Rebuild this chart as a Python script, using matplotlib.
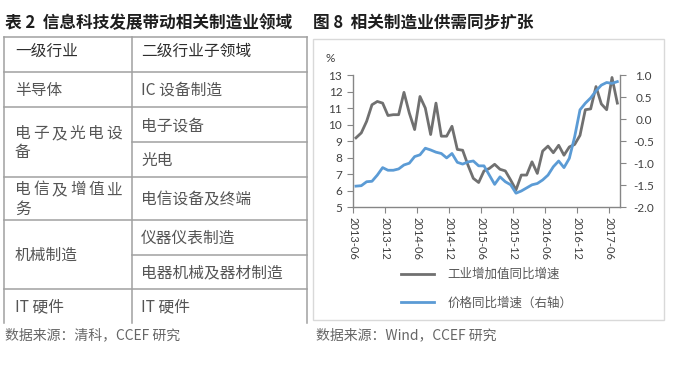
import numpy as np
import pandas as pd
import matplotlib
matplotlib.use('Agg')
import matplotlib.pyplot as plt

plt.rcParams['font.family'] = ['Noto Sans CJK SC', 'DejaVu Sans']

## table content ##
table_title = '表 2  信息科技发展带动相关制造业领域'
head = ['一级行业', '二级行业子领域']
level1 = [['半导体'], ['电子及光电设', '备'], ['电信及增值业', '务'], ['机械制造'], ['IT 硬件']]
level2 = [['IC 设备制造'], ['电子设备', '光电'], ['电信设备及终端'],
          ['仪器仪表制造', '电器机械及器材制造'], ['IT 硬件']]
src_left = '数据来源：清科，CCEF 研究'

## chart content: monthly 2013-06 .. 2017-07 ##
chart_title = '图 8  相关制造业供需同步扩张'
months = pd.period_range('2013-06', '2017-07', freq='M')
ind_growth = [9.2, 9.5, 10.2, 11.2, 11.4, 11.3, 10.55, 10.6, 10.6, 11.95,
              10.7, 9.7, 11.7, 11.0, 9.4, 11.3, 9.3, 9.3, 9.9, 8.5,
              8.45, 7.55, 6.75, 6.5, 7.2, 7.35, 7.6, 7.3, 7.2, 6.65,
              6.05, 6.95, 6.95, 7.75, 7.05, 8.4, 8.7, 8.3, 8.75, 8.15,
              8.65, 8.8, 9.35, 10.9, 10.95, 12.3, 11.25, 10.9, 12.85, 11.3]
price_growth = [-1.52, -1.51, -1.42, -1.41, -1.27, -1.10, -1.16, -1.16, -1.13, -1.04,
                -1.0, -0.85, -0.81, -0.66, -0.70, -0.75, -0.78, -0.88, -0.78, -0.98,
                -1.02, -0.97, -0.95, -1.06, -1.06, -1.27, -1.48, -1.31, -1.42, -1.49,
                -1.68, -1.63, -1.56, -1.49, -1.46, -1.38, -1.27, -1.08, -0.95, -1.10,
                -0.89, -0.40, 0.21, 0.36, 0.48, 0.64, 0.77, 0.83, 0.81, 0.85]
labels = ['工业增加值同比增速', '价格同比增速（右轴）']
src_right = '数据来源：Wind，CCEF 研究'

W, H = 680, 367
fig = plt.figure(figsize=(W / 100, H / 100), dpi=100)
fig.patch.set_facecolor('white')

# overlay in pixel coords for the table and frames
ax0 = fig.add_axes([0, 0, 1, 1])
ax0.set_xlim(0, W)
ax0.set_ylim(H, 0)
ax0.axis('off')

lc = '#a0a0a0'
hc = '#2e2e2e'
bc = '#555555'
fs = 11.3

# table grid
x_l, x_m, x_r = 4, 132.3, 306.7
row_edges = [37.3, 71.7, 107.3, 176.7, 220, 289.3, 322.7]
for y in row_edges[:-1]:
    ax0.plot([x_l, x_r], [y, y], color=lc, lw=1.1)
for x in [x_l, x_m, x_r]:
    ax0.plot([x, x], [row_edges[0], row_edges[-1]], color=lc, lw=1.1)

ax0.text(5, 23, table_title, fontsize=12, fontweight='bold', color='#1e1e1e',
         va='center', ha='left')
ax0.text(15, 51, head[0], fontsize=fs, color=hc, va='center')
ax0.text(141, 51, head[1], fontsize=fs, color=hc, va='center')

for r, (l1, l2) in enumerate(zip(level1, level2)):
    top, bot = row_edges[r + 1], row_edges[r + 2]
    mid = (top + bot) / 2
    # left column
    if len(l1) == 1:
        ax0.text(15, mid + 1, l1[0], fontsize=fs, color=bc, va='center')
    else:
        gap = 19
        y1 = mid - gap / 2 + 1
        chars = list(l1[0])
        for k, ch in enumerate(chars):
            ax0.text(15 + k * 18.3, y1, ch, fontsize=fs, color=bc, va='center')
        ax0.text(15, y1 + gap, l1[1], fontsize=fs, color=bc, va='center')
    # right column
    n = len(l2)
    h = (bot - top) / n
    for k, t in enumerate(l2):
        if k > 0:
            ax0.plot([x_m, x_r], [top + k * h, top + k * h], color=lc, lw=1.1)
        ax0.text(141, top + h * (k + 0.5) + 1, t, fontsize=fs, color=bc, va='center')

ax0.text(5, 335, src_left, fontsize=10, color='#666666', va='center')

# chart frame + title
ax0.text(313, 23, chart_title, fontsize=12, fontweight='bold', color='#1e1e1e',
         va='center', ha='left')
ax0.add_patch(plt.Rectangle((313.3, 39.3), 664 - 313.3, 320 - 39.3, fill=False,
                            edgecolor='#d9d9d9', lw=1))
ax0.text(325, 58, '%', fontsize=8.5, color='#404040', va='center',
         family=['Lato', 'DejaVu Sans'])
ax0.text(316, 335, src_right, fontsize=10, color='#666666', va='center')

# chart axes
x = np.arange(len(months)) + 0.5
ax = fig.add_axes([353.3 / W, 1 - 207.3 / H, (620 - 353.3) / W, (207.3 - 75) / H])
ax.set_facecolor('none')
ax2 = ax.twinx()

l1, = ax.plot(x, ind_growth, color='#707070', lw=2.0)
l2, = ax2.plot(x, price_growth, color='#5b9bd5', lw=2.0)

ax.set_xlim(0, len(months))
ax.set_ylim(5, 13)
ax2.set_ylim(-2, 1)
ax.set_yticks(np.arange(5, 14, 1))
ax2.set_yticks(np.arange(-2, 1.01, 0.5))
ax2.set_yticklabels(['%.1f' % v for v in np.arange(-2, 1.01, 0.5)])

xt = np.arange(0, len(months), 6)
ax.set_xticks(xt)
ax.set_xticklabels([months[i].strftime('%Y-%m') for i in xt], rotation=-90)

sc = '#868686'
for a in (ax, ax2):
    a.spines['top'].set_visible(False)
    for s in ['left', 'right', 'bottom']:
        a.spines[s].set_color(sc)
        a.spines[s].set_linewidth(1.0)
ax.spines['right'].set_visible(False)
ax2.spines['left'].set_visible(False)
ax2.spines['bottom'].set_visible(False)

ax.tick_params(axis='y', direction='out', length=4, color=sc, labelsize=8.5,
               labelcolor='#404040', pad=4)
ax.tick_params(axis='x', direction='out', length=4, color=sc, labelsize=8,
               labelcolor='#404040', pad=3)
ax2.tick_params(axis='y', direction='out', length=4, color=sc, labelsize=8.5,
                labelcolor='#404040', pad=13)
for t in ax.get_xticklabels() + ax.get_yticklabels() + ax2.get_yticklabels():
    t.set_family(['Lato', 'DejaVu Sans'])
for t in ax2.get_yticklabels():
    t.set_ha('center')

fig.legend(handles=[l1, l2], labels=labels, loc='upper left',
           bbox_to_anchor=(401 / W, 1 - 268 / H), frameon=False, fontsize=9,
           handlelength=2.6, handletextpad=1.1, labelspacing=1.25,
           borderpad=0, borderaxespad=0, labelcolor='#595959')

fig.savefig('out.png', dpi=100, facecolor='white')
